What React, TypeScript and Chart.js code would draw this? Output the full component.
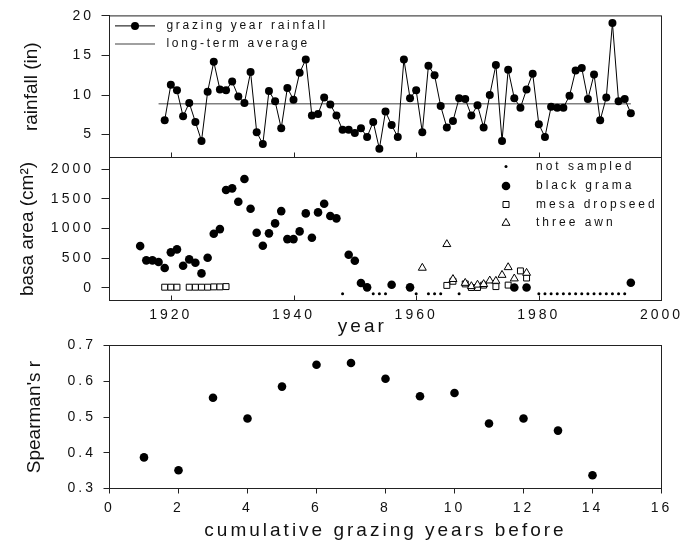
import React, { useEffect, useRef } from 'react';
import { Chart, registerables } from 'chart.js';

Chart.register(...registerables);

const FONT = '"Liberation Sans", Arial, Helvetica, sans-serif';
const W = 693;
const H = 544;
const INK = '#111';
const FRAME = '#222';

// ---------- top panel: grazing-year rainfall ----------
const rainYears = [
  1919, 1920, 1921, 1922, 1923, 1924, 1925, 1926, 1927, 1928, 1929, 1930, 1931, 1932, 1933, 1934,
  1935, 1936, 1937, 1938, 1939, 1940, 1941, 1942, 1943, 1944, 1945, 1946, 1947, 1948, 1949, 1950,
  1951, 1952, 1953, 1954, 1955, 1956, 1957, 1958, 1959, 1960, 1961, 1962, 1963, 1964, 1965, 1966,
  1967, 1968, 1969, 1970, 1971, 1972, 1973, 1974, 1975, 1976, 1977, 1978, 1979, 1980, 1981, 1982,
  1983, 1984, 1985, 1986, 1987, 1988, 1989, 1990, 1991, 1992, 1993, 1994, 1995,
];
const rainfall = [
  6.8, 11.3, 10.6, 7.3, 9.0, 6.6, 4.2, 10.4, 14.2, 10.7, 10.6, 11.7, 9.8, 9.0, 12.9, 5.3,
  3.8, 10.5, 9.2, 5.8, 10.9, 9.4, 12.8, 14.5, 7.4, 7.6, 9.7, 8.8, 7.4, 5.6, 5.6, 5.2,
  5.8, 4.7, 6.6, 3.2, 7.9, 6.2, 4.7, 14.5, 9.6, 10.6, 5.3, 13.7, 12.5, 8.6, 5.9, 6.7,
  9.6, 9.5, 7.4, 8.7, 5.9, 10.0, 13.8, 4.2, 13.2, 9.6, 8.4, 10.7, 12.7, 6.3, 4.7, 8.5,
  8.4, 8.4, 9.9, 13.1, 13.4, 9.5, 12.6, 6.8, 9.7, 19.1, 9.2, 9.5, 7.7,
];
const avgYears = [1918, 1995];
const avgRainfall = 8.9;

// ---------- middle panel: basal area ----------
const gramaYears = [
  1915, 1916, 1917, 1918, 1919, 1920, 1921, 1922, 1923, 1924, 1925, 1926, 1927, 1928, 1929, 1930,
  1931, 1932, 1933, 1934, 1935, 1936, 1937, 1938, 1939, 1940, 1941, 1942, 1943, 1944, 1945, 1946,
  1947, 1949, 1950, 1951, 1952, 1956, 1959, 1976, 1978, 1995,
];
const gramaArea = [
  704, 463, 463, 434, 333, 598, 648, 372, 479, 422, 243, 507, 912, 991, 1650, 1679,
  1453, 1836, 1334, 929, 709, 919, 1087, 1295, 822, 822, 952, 1256, 845, 1273, 1419, 1211,
  1172, 557, 456, 80, 7, 50, 7, 5, 5, 85,
];
const dropseedYears = [
  1919, 1920, 1921, 1923, 1924, 1925, 1926, 1927, 1928, 1929,
  1965, 1966, 1968, 1969, 1970, 1971, 1973, 1975, 1977, 1978,
];
const dropseedArea = [
  10, 10, 10, 10, 10, 10, 10, 15, 15, 20,
  40, 110, 65, 5, 5, 45, 20, 45, 285, 165,
];
const awnYears = [1961, 1965, 1966, 1968, 1969, 1970, 1971, 1972, 1973, 1974, 1975, 1976, 1978];
const awnArea = [335, 735, 145, 80, 25, 50, 60, 120, 115, 215, 345, 155, 250];
const notSampledYears = [
  1948, 1953, 1954, 1955, 1960, 1962, 1963, 1964, 1967,
  1980, 1981, 1982, 1983, 1984, 1985, 1986, 1987, 1988, 1989, 1990, 1991, 1992, 1993, 1994,
];
const notSampledLevel = -100;

// ---------- bottom panel: Spearman's r ----------
const cumYears = [1, 2, 3, 4, 5, 6, 7, 8, 9, 10, 11, 12, 13, 14];
const spearmanR = [0.387, 0.351, 0.554, 0.496, 0.585, 0.646, 0.651, 0.607, 0.558, 0.567, 0.482, 0.496, 0.462, 0.337];

// ---------- ticks ----------
const yearTicks = [1920, 1940, 1960, 1980, 2000];
const yearInnerTicks = [1920, 1940, 1960, 1980];
const rainTicks = [5, 10, 15, 20];
const areaTicks = [0, 500, 1000, 1500, 2000];
const rTicks = [0.3, 0.4, 0.5, 0.6, 0.7];
const cumTicks = [0, 2, 4, 6, 8, 10, 12, 14, 16];

const pts = (xs: number[], ys: number[]) => xs.map((x, i) => ({ x, y: ys[i] }));
const setTicks = (vals: number[]) => (s: any) => {
  s.ticks = vals.map((v) => ({ value: v }));
};

// letter spacing for everything except the rotated y titles
const spacingPlugin = {
  id: 'spacing',
  beforeDraw(chart: any) {
    chart.ctx.letterSpacing = '3px';
    const y = chart.scales.y;
    if (y && !y.__noSpacing) {
      const orig = y.drawTitle.bind(y);
      y.drawTitle = () => {
        const c = y.ctx;
        const prev = c.letterSpacing;
        c.letterSpacing = '0px';
        orig();
        c.letterSpacing = prev;
      };
      y.__noSpacing = true;
    }
  },
};

const framePlugin = {
  id: 'frame',
  afterDraw(chart: any, _args: any, opts: any) {
    const { ctx, chartArea: a } = chart;
    ctx.save();
    ctx.strokeStyle = FRAME;
    ctx.lineWidth = 1;
    ctx.strokeRect(a.left, a.top, a.right - a.left, a.bottom - a.top);
    if (opts && opts.innerTicks) {
      const xs = chart.scales.x;
      ctx.beginPath();
      opts.innerTicks.forEach((v: number) => {
        const px = Math.round(xs.getPixelForValue(v)) + 0.5;
        ctx.moveTo(px, a.bottom);
        ctx.lineTo(px, a.bottom - 5);
      });
      ctx.stroke();
    }
    if (opts && opts.xLabel) {
      ctx.fillStyle = INK;
      ctx.font = `19px ${FONT}`;
      ctx.letterSpacing = '3px';
      ctx.textAlign = 'center';
      ctx.textBaseline = 'middle';
      ctx.fillText(opts.xLabel, a.left + (a.right - a.left) * 0.458, a.bottom + 26);
    }
    ctx.restore();
  },
};

function drawMarker(ctx: any, kind: string, x: number, y: number) {
  ctx.beginPath();
  if (kind === 'dot') {
    ctx.arc(x, y, 1.5, 0, Math.PI * 2);
    ctx.fillStyle = '#000';
    ctx.fill();
  } else if (kind === 'circle') {
    ctx.arc(x, y, 4.3, 0, Math.PI * 2);
    ctx.fillStyle = '#000';
    ctx.fill();
  } else if (kind === 'rect') {
    ctx.rect(x - 3, y - 3, 6, 6);
    ctx.fillStyle = '#fff';
    ctx.fill();
    ctx.strokeStyle = '#000';
    ctx.lineWidth = 1;
    ctx.stroke();
  } else if (kind === 'triangle') {
    const r = 4.6;
    ctx.moveTo(x, y - r);
    ctx.lineTo(x + 0.866 * r, y + 0.5 * r);
    ctx.lineTo(x - 0.866 * r, y + 0.5 * r);
    ctx.closePath();
    ctx.fillStyle = '#fff';
    ctx.fill();
    ctx.strokeStyle = '#000';
    ctx.lineWidth = 1;
    ctx.stroke();
  }
}

const rainLegendPlugin = {
  id: 'rainLegend',
  afterDraw(chart: any) {
    const { ctx, chartArea: a } = chart;
    ctx.save();
    ctx.font = `12px ${FONT}`;
    ctx.letterSpacing = '2.7px';
    ctx.fillStyle = INK;
    ctx.textAlign = 'left';
    ctx.textBaseline = 'middle';
    const x0 = a.left + 5.5;
    const x1 = a.left + 45.5;
    const r1 = a.top + 10;
    const r2 = a.top + 28;
    ctx.strokeStyle = '#000';
    ctx.lineWidth = 1;
    ctx.beginPath();
    ctx.moveTo(x0, r1);
    ctx.lineTo(x1, r1);
    ctx.stroke();
    ctx.beginPath();
    ctx.arc((x0 + x1) / 2, r1, 4, 0, Math.PI * 2);
    ctx.fillStyle = '#000';
    ctx.fill();
    ctx.strokeStyle = '#808080';
    ctx.lineWidth = 1.5;
    ctx.beginPath();
    ctx.moveTo(x0, r2);
    ctx.lineTo(x1, r2);
    ctx.stroke();
    ctx.fillStyle = INK;
    ctx.fillText('grazing year rainfall', a.left + 57, r1);
    ctx.fillText('long-term average', a.left + 57, r2);
    ctx.restore();
  },
};

const areaLegendPlugin = {
  id: 'areaLegend',
  afterDraw(chart: any) {
    const { ctx, chartArea: a } = chart;
    const items = [
      ['dot', 'not sampled', 9],
      ['circle', 'black grama', 28.5],
      ['rect', 'mesa dropseed', 47],
      ['triangle', 'three awn', 65.5],
    ] as [string, string, number][];
    ctx.save();
    items.forEach(([kind, label, dy]) => {
      const y = a.top + dy;
      drawMarker(ctx, kind, a.right - 155.5, y);
      ctx.font = `12px ${FONT}`;
      ctx.letterSpacing = '3px';
      ctx.fillStyle = INK;
      ctx.textAlign = 'left';
      ctx.textBaseline = 'middle';
      ctx.fillText(label, a.right - 125.5, y);
    });
    ctx.restore();
  },
};

const tickFont = { family: FONT, size: 14 };
const titleFont = { family: FONT, size: 19 };

function yAxis(min: number, max: number, ticks: number[], title: string, titlePad: number, tickLen: number, fmt: (v: number) => string) {
  return {
    type: 'linear',
    position: 'left',
    min,
    max,
    afterBuildTicks: setTicks(ticks),
    afterFit: (s: any) => {
      s.width = 109.5;
    },
    grid: { display: true, drawOnChartArea: false, drawTicks: true, tickLength: tickLen, color: FRAME, lineWidth: 1 },
    border: { display: false },
    ticks: { padding: 7.5, color: INK, font: tickFont, autoSkip: false, callback: (v: any) => fmt(Number(v)) },
    title: { display: true, text: title, color: INK, font: titleFont, padding: { top: titlePad, bottom: 0 } },
  };
}

const baseOptions = {
  responsive: false,
  maintainAspectRatio: false,
  animation: false,
  devicePixelRatio: 1,
  events: [],
};

function rainConfig(): any {
  return {
    type: 'line',
    data: {
      datasets: [
        {
          label: 'grazing year rainfall',
          data: pts(rainYears, rainfall),
          borderColor: '#000',
          borderWidth: 1,
          backgroundColor: '#000',
          pointRadius: 4,
          pointBackgroundColor: '#000',
          pointBorderWidth: 0,
          tension: 0,
        },
        {
          label: 'long-term average',
          data: avgYears.map((x) => ({ x, y: avgRainfall })),
          borderColor: '#808080',
          borderWidth: 1.5,
          pointRadius: 0,
          tension: 0,
        },
      ],
    },
    options: {
      ...baseOptions,
      layout: { padding: { left: 0, top: 15.5, right: 31.5, bottom: 386.5 } },
      plugins: { legend: { display: false }, tooltip: { enabled: false }, frame: { innerTicks: yearInnerTicks } },
      scales: {
        x: {
          type: 'linear',
          min: 1910,
          max: 2000,
          afterFit: (s: any) => {
            s.height = 0;
          },
          ticks: { display: false },
          grid: { display: false, drawTicks: false },
          border: { display: false },
        },
        y: yAxis(2.1, 20, rainTicks, 'rainfall (in)', 20, 8, (v) => String(v)),
      },
    },
    plugins: [spacingPlugin, framePlugin, rainLegendPlugin],
  };
}

function areaConfig(): any {
  return {
    type: 'scatter',
    data: {
      datasets: [
        {
          label: 'black grama',
          data: pts(gramaYears, gramaArea),
          pointStyle: 'circle',
          pointRadius: 4.3,
          backgroundColor: '#000',
          borderColor: '#000',
          borderWidth: 0,
        },
        {
          label: 'three awn',
          data: pts(awnYears, awnArea),
          pointStyle: 'triangle',
          pointRadius: 4.6,
          backgroundColor: '#fff',
          borderColor: '#000',
          borderWidth: 1,
        },
        {
          label: 'mesa dropseed',
          data: pts(dropseedYears, dropseedArea),
          pointStyle: 'rect',
          pointRadius: 4.2,
          backgroundColor: '#fff',
          borderColor: '#000',
          borderWidth: 1,
        },
        {
          label: 'not sampled',
          data: notSampledYears.map((x) => ({ x, y: notSampledLevel })),
          pointStyle: 'circle',
          pointRadius: 1.5,
          backgroundColor: '#000',
          borderColor: '#000',
          borderWidth: 0,
        },
      ],
    },
    options: {
      ...baseOptions,
      layout: { padding: { left: 0, top: 157.5, right: 31.5, bottom: 203.5 } },
      plugins: {
        legend: { display: false },
        tooltip: { enabled: false },
        frame: { innerTicks: yearInnerTicks, xLabel: 'year' },
      },
      scales: {
        x: {
          type: 'linear',
          min: 1910,
          max: 2000,
          afterBuildTicks: setTicks(yearTicks),
          afterFit: (s: any) => {
            s.height = 40;
          },
          ticks: { padding: 6.5, color: INK, font: tickFont, autoSkip: false, maxRotation: 0, callback: (v: any) => String(v) },
          grid: { display: false, drawTicks: false },
          border: { display: false },
        },
        y: yAxis(-215, 2200, areaTicks, 'basa area (cm\u00B2)', 16.5, 8, (v) => String(v)),
      },
    },
    plugins: [spacingPlugin, framePlugin, areaLegendPlugin],
  };
}

function spearmanConfig(): any {
  return {
    type: 'scatter',
    data: {
      datasets: [
        {
          label: "Spearman's r",
          data: pts(cumYears, spearmanR),
          pointStyle: 'circle',
          pointRadius: 4.3,
          backgroundColor: '#000',
          borderColor: '#000',
          borderWidth: 0,
        },
      ],
    },
    options: {
      ...baseOptions,
      layout: { padding: { left: 0, top: 345.5, right: 31.5, bottom: 0 } },
      plugins: { legend: { display: false }, tooltip: { enabled: false }, frame: {} },
      scales: {
        x: {
          type: 'linear',
          min: 0,
          max: 16,
          afterBuildTicks: setTicks(cumTicks),
          afterFit: (s: any) => {
            s.height = 55.5;
          },
          ticks: { padding: 6, color: INK, font: tickFont, autoSkip: false, maxRotation: 0, callback: (v: any) => String(v) },
          grid: { display: true, drawOnChartArea: false, drawTicks: true, tickLength: 5, color: FRAME },
          border: { display: false },
          title: {
            display: true,
            text: 'cumulative grazing years before',
            color: INK,
            font: titleFont,
            padding: { top: 0, bottom: 1.5 },
          },
        },
        y: yAxis(0.3, 0.7, rTicks, "Spearman's r", 23.5, 6, (v) => v.toFixed(1)),
      },
    },
    plugins: [spacingPlugin, framePlugin],
  };
}

function ChartCanvas({ make }: { make: () => any }) {
  const ref = useRef<HTMLCanvasElement | null>(null);
  useEffect(() => {
    if (!ref.current) return;
    const chart = new Chart(ref.current, make());
    return () => chart.destroy();
  }, [make]);
  return (
    <canvas
      ref={ref}
      width={W}
      height={H}
      style={{ position: 'absolute', left: 0, top: 0, width: W, height: H }}
    />
  );
}

export default function App() {
  return (
    <div style={{ position: 'absolute', left: 0, top: 0, width: W, height: H, background: '#fff', overflow: 'hidden' }}>
      <ChartCanvas make={rainConfig} />
      <ChartCanvas make={areaConfig} />
      <ChartCanvas make={spearmanConfig} />
    </div>
  );
}
